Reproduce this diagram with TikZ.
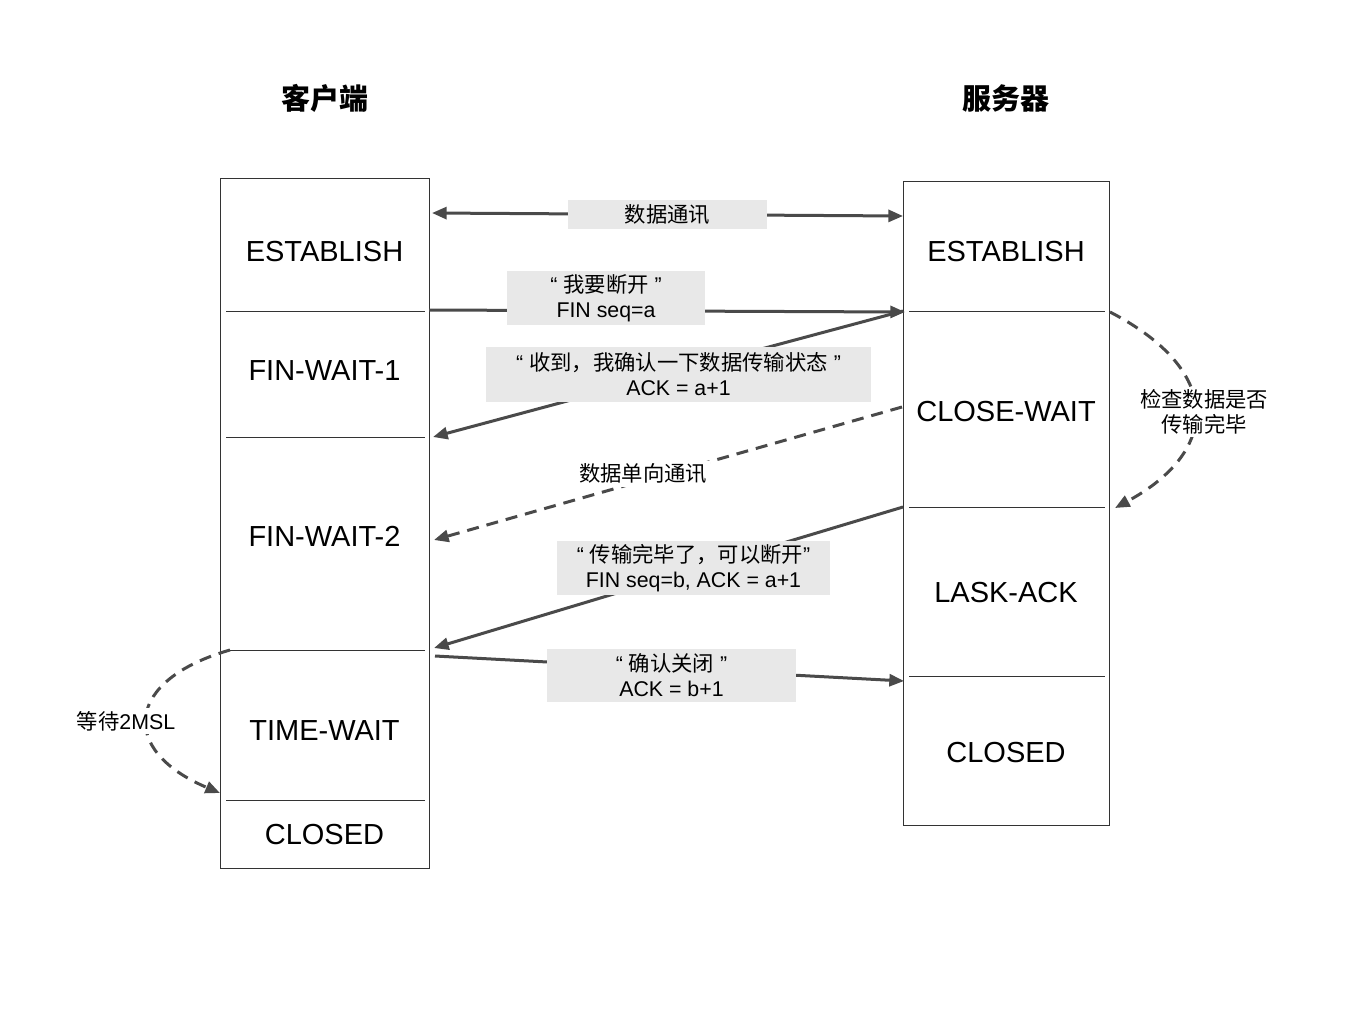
\documentclass[tikz,border=0pt]{standalone}
\usepackage{fontspec}
\setmainfont{Liberation Sans}
\newfontfamily\cjk{Noto Sans CJK SC}
\usetikzlibrary{arrows.meta}

\definecolor{arrowgray}{RGB}{74,74,74}
\definecolor{labelgray}{RGB}{232,232,232}

\tikzset{every picture/.style={line width=0.75pt},
	msg/.style={draw=arrowgray, line width=2.25pt, -{Triangle[length=11pt,width=9pt]}},
	msgdash/.style={msg, dash pattern=on 9pt off 6pt},
	state/.style={font=\fontsize{21.75}{26}\selectfont},
	title/.style={font=\cjk\bfseries\fontsize{21.75}{26}\selectfont},
	lbl/.style={fill=labelgray, align=center, inner sep=0pt, font=\fontsize{16}{18.75}\selectfont},
	note/.style={fill=white, align=center, inner sep=2pt, font=\fontsize{16}{18.75}\selectfont},
	divider/.style={draw=black!80, line width=0.75pt}}

\begin{document}
\begin{tikzpicture}[x=0.75pt,y=0.75pt,yscale=-1,xscale=1]
		\useasboundingbox (0,0) rectangle (1362,1014);

		%titles
		\node [title] (client-title) at (325,98) {客户端};
		\node [title] (server-title) at (1006,98) {服务器};

		%client column
		\draw  [draw=black!80]  (220,178) rectangle (429,868) ;
		\draw  [divider]  (226,311) -- (425,311) ;
		\draw  [divider]  (226,437) -- (425,437) ;
		\draw  [divider]  (226,650) -- (425,650) ;
		\draw  [divider]  (226,800) -- (425,800) ;
		\node [state] (c-est) at (324.5,252) {ESTABLISH};
		\node [state] (c-fw1) at (324.5,371) {FIN-WAIT-1};
		\node [state] (c-fw2) at (324.5,536) {FIN-WAIT-2};
		\node [state] (c-tw) at (324.5,731) {TIME-WAIT};
		\node [state] (c-closed) at (324.5,835) {CLOSED};

		%server column
		\draw  [draw=black!80]  (903,181) rectangle (1109,825) ;
		\draw  [divider]  (909,311) -- (1105,311) ;
		\draw  [divider]  (909,507) -- (1105,507) ;
		\draw  [divider]  (909,676) -- (1105,676) ;
		\node [state] (s-est) at (1006,252) {ESTABLISH};
		\node [state] (s-cw) at (1006,412) {CLOSE-WAIT};
		\node [state] (s-la) at (1006,593) {LASK-ACK};
		\node [state] (s-closed) at (1006,753) {CLOSED};

		%arrow ends
		\coordinate (c-data) at (432,213);
		\coordinate (s-data) at (903,216);
		\coordinate (c-fin1) at (429,310);
		\coordinate (s-fin1) at (905,312);
		\coordinate (s-ack1) at (903,311);
		\coordinate (c-ack1) at (433,437);
		\coordinate (s-half) at (902,407);
		\coordinate (c-half) at (434,540);
		\coordinate (s-fin2) at (903,507);
		\coordinate (c-fin2) at (434,648);
		\coordinate (c-ack2) at (435,656);
		\coordinate (s-ack2) at (904,681);
		\coordinate (s-check1) at (1110,312);
		\coordinate (s-check2) at (1115,508);
		\coordinate (c-wait1) at (230,650);
		\coordinate (c-wait2) at (220,793);

		%messages
		\draw  [msg, {Triangle[length=11pt,width=9pt]}-{Triangle[length=11pt,width=9pt]}]  (c-data) -- (s-data) ;
		\draw  [msg]  (c-fin1) -- (s-fin1) ;
		\draw  [msg]  (s-ack1) -- (c-ack1) ;
		\draw  [msgdash]  (s-half) -- (c-half) ;
		\draw  [msg]  (s-fin2) -- (c-fin2) ;
		\draw  [msg]  (c-ack2) -- (s-ack2) ;
		\draw  [msgdash]  (s-check1) .. controls (1222,370) and (1222,450) .. (s-check2) ;
		\draw  [msgdash]  (c-wait1) .. controls (125,680) and (118,750) .. (c-wait2) ;

		%labels
		\node [lbl, minimum width=149.25pt, minimum height=21.75pt] (data-lbl) at (667.5,214.5) {\cjk 数据通讯};
		\node [lbl, minimum width=148.5pt, minimum height=40.5pt] (fin1-lbl) at (606,298) {“ {\cjk 我要断开} ”\\FIN seq=a};
		\node [lbl, minimum width=288.75pt, minimum height=41.25pt] (ack1-lbl) at (678.5,374.5) {“ {\cjk 收到，我确认一下数据传输状态} ”\\ACK = a+1};
		\node [note] (half-lbl) at (643,474) {\cjk 数据单向通讯};
		\node [lbl, minimum width=204.75pt, minimum height=40.5pt] (fin2-lbl) at (693.5,568) {“ {\cjk 传输完毕了，可以断开}”\\FIN seq=b, ACK = a+1};
		\node [lbl, minimum width=186.75pt, minimum height=39.75pt] (ack2-lbl) at (671.5,675.5) {“ {\cjk 确认关闭} ”\\ACK = b+1};
		\node [note] (check-lbl) at (1204,412) {\cjk 检查数据是否\\\cjk 传输完毕};
		\node [note] (wait-lbl) at (126,721) {{\cjk 等待}2MSL};

		\end{tikzpicture}
\end{document}
